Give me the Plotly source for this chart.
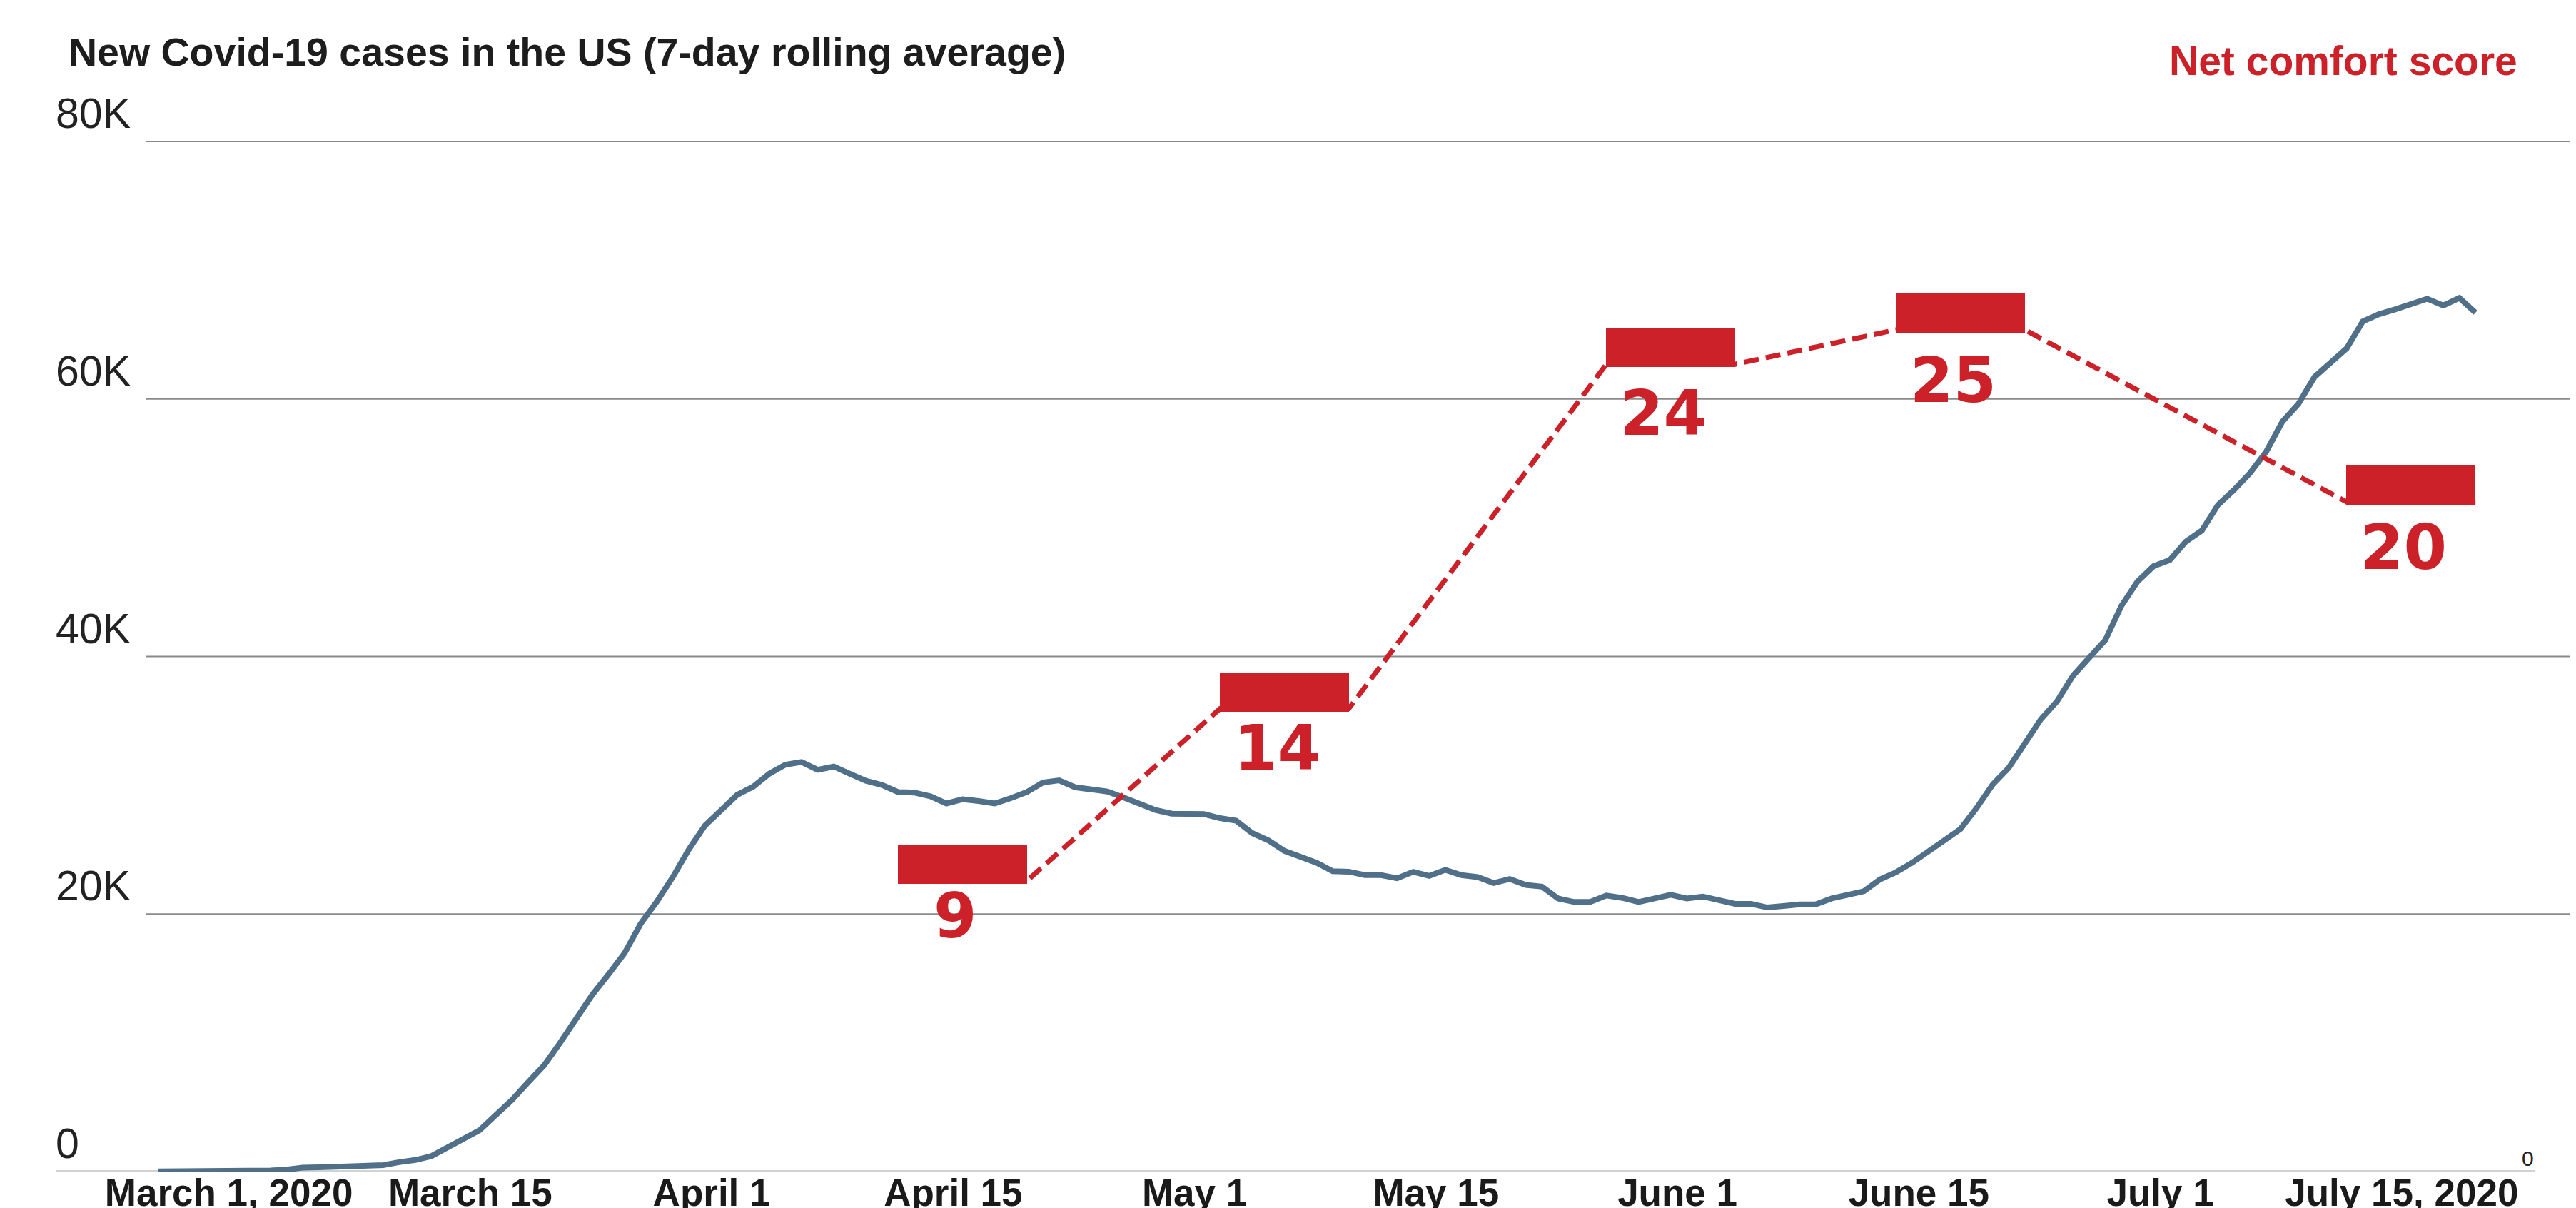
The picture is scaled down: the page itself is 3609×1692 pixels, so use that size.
import pandas as pd
import plotly.graph_objects as go

# ---------------- data ----------------
case_start = "2020-03-01"
cases = [
    10, 10, 20, 30, 40, 50, 60, 80, 150, 300,
    330, 380, 440, 470, 500, 730, 900, 1200, 1830, 2580,
    3210, 4390, 5550, 6920, 8240, 10010, 11870, 13740, 15310, 16960,
    19240, 20950, 22870, 25020, 26870, 28100, 29250, 29890, 30900, 31600,
    31800, 31200, 31450, 30890, 30340, 30020, 29470, 29430, 29140, 28580,
    28910, 28770, 28580, 28990, 29470, 30210, 30380, 29840, 29690, 29510,
    29050, 28580, 28070, 27790, 27760, 27760, 27440, 27250, 26280, 25720,
    24900, 24440, 23980, 23330, 23290, 23020, 23020, 22780, 23280, 22960,
    23430, 23020, 22870, 22410, 22720, 22260, 22130, 21210, 20940, 20940,
    21440, 21250, 20940, 21210, 21490, 21210, 21360, 21070, 20790, 20790,
    20510, 20620, 20750, 20750, 21210, 21490, 21770, 22690, 23240, 23980,
    24810, 25730, 26600, 28220, 30050, 31350, 33190, 35130, 36510, 38520,
    39900, 41270, 43930, 45820, 47010, 47480, 48910, 49780, 51770, 52930,
    54250, 55910, 58230, 59620, 61710, 62870, 63930, 66020, 66580, 66950,
    67410, 67780, 67250, 67840, 66700,
]
case_dates = pd.date_range(case_start, periods=len(cases), freq="D")

# survey windows (start / end) and net comfort scores
score_start = ["2020-04-16", "2020-05-06", "2020-05-30", "2020-06-17", "2020-07-15"]
score_end = ["2020-04-24", "2020-05-14", "2020-06-07", "2020-06-25", "2020-07-23"]
score_values = [9, 14, 24, 25, 20]

x_tick_labels = ["March 1, 2020", "March 15", "April 1", "April 15", "May 1",
                 "May 15", "June 1", "June 15", "July 1", "July 15, 2020"]
x_tick_dates = pd.date_range("2020-03-05 10:00", periods=len(x_tick_labels), freq="15D")

y_ticks = [0, 20000, 40000, 60000, 80000]
y_tick_labels = ["0", "20K", "40K", "60K", "80K"]

title_text = "New Covid-19 cases in the US (7-day rolling average)"
score_title = "Net comfort score"

# ---------------- style ----------------
W, H = 3609, 1692
ML, MR, MT, MB = 71, 0, 190, 53
PW = W - ML - MR
PH = H - MT - MB
BLUE = "#506f88"
RED = "#cc2128"
FONT = "Liberation Sans"

fig = go.Figure()

fig.add_trace(go.Scatter(
    x=case_dates, y=cases, mode="lines",
    line=dict(color=BLUE, width=8),
    hoverinfo="skip", yaxis="y",
))

s_start = pd.to_datetime(score_start)
s_end = pd.to_datetime(score_end)
s_mid = s_start + (s_end - s_start) / 2

line_x, line_y = [], []
for a, b, v in zip(s_start, s_end, score_values):
    line_x += [a, b]
    line_y += [v, v]

fig.add_trace(go.Scatter(
    x=line_x, y=line_y, mode="lines",
    line=dict(color=RED, width=7, dash="21px,10px"),
    hoverinfo="skip", yaxis="y2",
))

# invisible carrier for the label axis
fig.add_trace(go.Scatter(
    x=s_mid, y=score_values, mode="markers",
    marker=dict(size=1, opacity=0), hoverinfo="skip", yaxis="y3",
))

# gridlines
grid_x0 = (197 - ML) / PW
for yv in y_ticks[1:]:
    fig.add_shape(type="line", xref="paper", yref="y", x0=grid_x0, x1=1,
                  y0=yv, y1=yv, line=dict(color="#8a8a8a", width=2), layer="below")
fig.add_shape(type="line", xref="paper", yref="y", x0=0, x1=(3544 - ML) / PW,
              y0=0, y1=0, line=dict(color="#d2d2d2", width=4), layer="below")

# y labels (above gridlines, left)
for yv, lab in zip(y_ticks, y_tick_labels):
    fig.add_annotation(xref="paper", yref="y", x=0, y=yv, text=lab, showarrow=False,
                       xanchor="left", yanchor="bottom", xshift=-3, yshift=4,
                       font=dict(family=FONT, size=59, color="#222222"))

# right-side zero for score axis
fig.add_annotation(xref="paper", yref="y", x=(3544 - ML) / PW, y=0, text="0",
                   showarrow=False, xanchor="right", yanchor="bottom",
                   font=dict(family=FONT, size=30, color="#222222"))

# score boxes and numbers
for m, v in zip(s_mid, score_values):
    fig.add_annotation(xref="x", yref="y2", x=m, y=v, text=" ", showarrow=False,
                       xanchor="center", yanchor="bottom", yshift=-4,
                       width=181, height=55,
                       bgcolor=RED, borderpad=0, borderwidth=0)
    fig.add_annotation(xref="x", yref="y3", x=m, y=v, text=str(v), showarrow=False,
                       xanchor="center", yanchor="top", xshift=-10, yshift=10,
                       font=dict(family="DejaVu Sans", size=87, color=RED, weight="bold"))

# titles
fig.add_annotation(xref="paper", yref="paper", x=(86 - ML) / PW, y=(H - MB - 64) / PH,
                   text=title_text, showarrow=False, xanchor="left", yanchor="middle",
                   font=dict(family=FONT, size=55.5, color="#1d1d1d", weight="bold"))
fig.add_annotation(xref="paper", yref="paper", x=(3521 - ML) / PW, y=(H - MB - 77) / PH,
                   text=score_title, showarrow=False, xanchor="right", yanchor="middle",
                   font=dict(family=FONT, size=57, color=RED, weight="bold"))

fig.update_layout(
    width=W, height=H, autosize=False,
    margin=dict(l=ML, r=MR, t=MT, b=MB, pad=0),
    paper_bgcolor="white", plot_bgcolor="white",
    showlegend=False,
    xaxis=dict(type="date", range=["2020-02-23 16:52", "2020-07-29 14:24"],
               tickvals=x_tick_dates, ticktext=x_tick_labels,
               showgrid=False, zeroline=False, showline=False, ticks="",
               ticklabelstandoff=-6,
               tickfont=dict(family=FONT, size=53, color="#1a1a1a", weight="bold")),
    yaxis=dict(range=[0, 80000], showgrid=False, zeroline=False,
               showticklabels=False, showline=False, ticks=""),
    yaxis2=dict(range=[0.56, 30.47], overlaying="y", side="right",
                showgrid=False, zeroline=False, showticklabels=False,
                showline=False, ticks=""),
    yaxis3=dict(range=[0.44, 31.22], overlaying="y", side="right",
                showgrid=False, zeroline=False, showticklabels=False,
                showline=False, ticks=""),
)

fig.write_html("out.html")
